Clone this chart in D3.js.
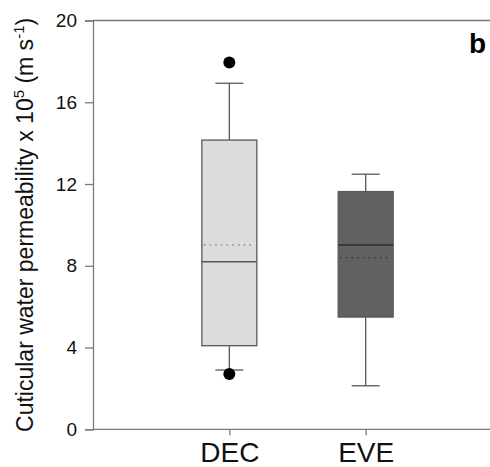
<!DOCTYPE html>
<html>
<head>
<meta charset="utf-8">
<script src="https://cdn.jsdelivr.net/npm/d3@7"></script>
<style>
  body { margin: 0; background: #fff; }
  text { font-family: "Liberation Sans", Arial, sans-serif; }
</style>
</head>
<body>
<svg id="chart" width="490" height="467"></svg>
<script>
// box plot data
const groups = ['DEC', 'EVE'];
const whiskerLow = [2.9, 2.13];
const q1 = [4.09, 5.49];
const median = [8.2, 9.02];
const mean = [9.02, 8.4];
const q3 = [14.15, 11.63];
const whiskerHigh = [16.93, 12.48];
const outliers = [[17.94, 2.7], []];
const yTicks = [0, 4, 8, 12, 16, 20];
const boxFill = ['#dcdcdc', '#616161'];
const medianColor = ['#555555', '#2e2e2e'];
const meanColor = ['#777777', '#333333'];

const width = 490;
const height = 467;
const plotLeft = 93;
const plotTop = 20.5;
const plotBottom = 429.3;

const svg = d3.select('#chart');

const y = d3.scaleLinear()
  .domain([0, 20])
  .range([plotBottom, plotTop]);

const x = d3.scalePoint()
  .domain(groups)
  .range([plotLeft, 502])
  .padding(1);

const boxHalf = 27.5;
const capHalf = 14;
const axisColor = '#7a7a7a';

// frame lines (top + bottom run off to the right edge)
svg.append('line')
  .attr('x1', plotLeft).attr('x2', width)
  .attr('y1', plotTop).attr('y2', plotTop)
  .attr('stroke', axisColor).attr('stroke-width', 1.3);

// y axis
const yAxis = d3.axisLeft(y).tickValues(yTicks).tickSize(8).tickPadding(8);
const gy = svg.append('g')
  .attr('transform', 'translate(' + plotLeft + ',0)')
  .call(yAxis);
gy.select('.domain').attr('stroke', axisColor).attr('stroke-width', 1.3);
gy.selectAll('.tick line').attr('stroke', axisColor).attr('stroke-width', 1.3);
gy.selectAll('.tick text')
  .attr('fill', '#111')
  .style('font-size', '19px')
  .style('font-family', '"Liberation Sans", Arial, sans-serif');

// x axis
const xAxis = d3.axisBottom(x).tickSize(6).tickPadding(7).tickSizeOuter(0);
const gx = svg.append('g')
  .attr('transform', 'translate(0,' + plotBottom + ')')
  .call(xAxis);
gx.select('.domain').attr('d', 'M' + plotLeft + ',0H' + width)
  .attr('stroke', axisColor).attr('stroke-width', 1.3);
gx.selectAll('.tick line').attr('stroke', axisColor).attr('stroke-width', 1.3);
gx.selectAll('.tick text')
  .attr('fill', '#111')
  .style('font-size', '28px')
  .style('font-family', '"Liberation Sans", Arial, sans-serif');

// boxes
const boxes = svg.append('g')
  .selectAll('g')
  .data(groups)
  .enter()
  .append('g');

const lineColor = '#595959';

// whiskers
boxes.append('line')
  .attr('x1', d => x(d)).attr('x2', d => x(d))
  .attr('y1', (d, i) => y(whiskerHigh[i])).attr('y2', (d, i) => y(q3[i]))
  .attr('stroke', lineColor).attr('stroke-width', 1.3);
boxes.append('line')
  .attr('x1', d => x(d)).attr('x2', d => x(d))
  .attr('y1', (d, i) => y(q1[i])).attr('y2', (d, i) => y(whiskerLow[i]))
  .attr('stroke', lineColor).attr('stroke-width', 1.3);
boxes.append('line')
  .attr('x1', d => x(d) - capHalf).attr('x2', d => x(d) + capHalf)
  .attr('y1', (d, i) => y(whiskerHigh[i])).attr('y2', (d, i) => y(whiskerHigh[i]))
  .attr('stroke', lineColor).attr('stroke-width', 1.3);
boxes.append('line')
  .attr('x1', d => x(d) - capHalf).attr('x2', d => x(d) + capHalf)
  .attr('y1', (d, i) => y(whiskerLow[i])).attr('y2', (d, i) => y(whiskerLow[i]))
  .attr('stroke', lineColor).attr('stroke-width', 1.3);

boxes.append('rect')
  .attr('x', d => x(d) - boxHalf)
  .attr('width', boxHalf * 2)
  .attr('y', (d, i) => y(q3[i]))
  .attr('height', (d, i) => y(q1[i]) - y(q3[i]))
  .attr('fill', (d, i) => boxFill[i])
  .attr('stroke', lineColor).attr('stroke-width', 1.3);

// median
boxes.append('line')
  .attr('x1', d => x(d) - boxHalf).attr('x2', d => x(d) + boxHalf)
  .attr('y1', (d, i) => y(median[i])).attr('y2', (d, i) => y(median[i]))
  .attr('stroke', (d, i) => medianColor[i]).attr('stroke-width', 1.4);

// mean (dotted)
boxes.append('line')
  .attr('x1', d => x(d) - boxHalf + 2).attr('x2', d => x(d) + boxHalf - 2)
  .attr('y1', (d, i) => y(mean[i])).attr('y2', (d, i) => y(mean[i]))
  .attr('stroke', (d, i) => meanColor[i]).attr('stroke-width', 1.3)
  .attr('stroke-dasharray', '1.5,4.2');

// outliers
boxes.each(function (d, i) {
  d3.select(this).selectAll('circle')
    .data(outliers[i])
    .enter()
    .append('circle')
    .attr('cx', x(d))
    .attr('cy', v => y(v))
    .attr('r', 6)
    .attr('fill', '#000');
});

// y label
svg.append('text')
  .attr('transform', 'translate(33,' + ((plotTop + plotBottom) / 2) + ') rotate(-90)')
  .attr('text-anchor', 'middle')
  .attr('fill', '#111')
  .style('font-size', '23px')
  .call(t => {
    t.append('tspan').text('Cuticular water permeability x 10');
    t.append('tspan').attr('dy', -9).style('font-size', '15px').text('5');
    t.append('tspan').attr('dy', 9).text(' (m s');
    t.append('tspan').attr('dy', -9).style('font-size', '15px').text('-1');
    t.append('tspan').attr('dy', 9).text(')');
  });

// panel letter
svg.append('text')
  .attr('x', 486)
  .attr('y', 53)
  .attr('text-anchor', 'end')
  .attr('fill', '#000')
  .style('font-size', '28px')
  .style('font-weight', 'bold')
  .text('b');
</script>
</body>
</html>
